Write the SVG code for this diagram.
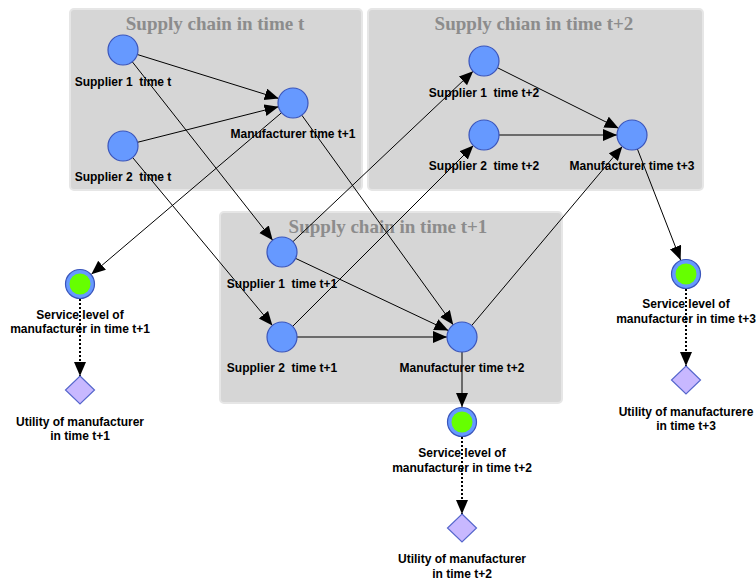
<svg xmlns="http://www.w3.org/2000/svg" width="756" height="583" viewBox="0 0 756 583">
<style>
.box{fill:#d6d6d6;stroke:#e6e6e6;stroke-width:2}
.title{font-family:"Liberation Serif",serif;font-weight:bold;font-size:19px;fill:#8c8c8c;text-anchor:middle}
.lbl{font-family:"Liberation Sans",Arial,sans-serif;font-weight:bold;font-size:12px;fill:#000;text-anchor:middle;white-space:pre}
.node{fill:#6699ff;stroke:#3a55bb;stroke-width:1.2}
.inner{fill:#66ff00}
.dia{fill:#c8b8ff;stroke:#5566cc;stroke-width:1.2}
.e{stroke:#000;stroke-width:1;fill:none;marker-end:url(#arr)}
.d{stroke:#000;stroke-width:2;stroke-dasharray:2,2;fill:none;marker-end:url(#arr)}
</style>
<defs>
<marker id="arr" markerUnits="userSpaceOnUse" markerWidth="15" markerHeight="13" refX="14" refY="6" orient="auto">
<path d="M0,0 L14,6 L0,12 z" fill="#000"/>
</marker>
</defs>
<rect width="756" height="583" fill="#fff"/>
<g id="group-t">
<rect class="box" x="70" y="9" width="292" height="181" rx="4"/>
<text class="title" x="215" y="30">Supply chain in time t</text>
</g>
<g id="group-t2">
<rect class="box" x="368" y="9" width="335" height="181" rx="4"/>
<text class="title" x="534" y="30">Supply chian in time t+2</text>
</g>
<g id="group-t1">
<rect class="box" x="220" y="212" width="342" height="191" rx="4"/>
<text class="title" x="388" y="233">Supply chain in time t+1</text>
</g>
<g id="connectors">
<line class="e" x1="137.3" y1="54.5" x2="278.7" y2="98.5"/>
<line class="e" x1="137.5" y1="142.3" x2="278.5" y2="106.7"/>
<line class="e" x1="132.3" y1="61.8" x2="272.7" y2="240.2"/>
<line class="e" x1="132.6" y1="157.5" x2="272.4" y2="325.5"/>
<line class="e" x1="281.6" y1="112.7" x2="91.4" y2="274.3"/>
<line class="e" x1="301.8" y1="115.2" x2="453.2" y2="324.8"/>
<line class="e" x1="292.9" y1="241.7" x2="473.1" y2="71.3"/>
<line class="e" x1="292.6" y1="326.4" x2="473.4" y2="145.6"/>
<line class="e" x1="295.6" y1="258.4" x2="448.4" y2="330.6"/>
<line class="e" x1="297" y1="337" x2="447" y2="337"/>
<line class="e" x1="471.7" y1="325.5" x2="622.3" y2="146.5"/>
<line class="e" x1="462" y1="352" x2="462" y2="407"/>
<line class="e" x1="497.4" y1="67.7" x2="618.6" y2="128.3"/>
<line class="e" x1="499" y1="135" x2="617" y2="135"/>
<line class="e" x1="637.4" y1="149" x2="680.6" y2="260"/>
<line class="d" x1="80" y1="299" x2="80" y2="376"/>
<line class="d" x1="462" y1="437" x2="462" y2="514"/>
<line class="d" x1="686" y1="289" x2="686" y2="366"/>
</g>
<g id="supplier1-t"><circle class="node" cx="123" cy="50" r="15"/><text class="lbl" x="123" y="86" xml:space="preserve">Supplier 1  time t</text></g>
<g id="supplier2-t"><circle class="node" cx="123" cy="146" r="15"/><text class="lbl" x="123" y="181" xml:space="preserve">Supplier 2  time t</text></g>
<g id="manufacturer-t1"><circle class="node" cx="293" cy="103" r="15"/><text class="lbl" x="293" y="138">Manufacturer time t+1</text></g>
<g id="supplier1-t2"><circle class="node" cx="484" cy="61" r="15"/><text class="lbl" x="484" y="97" xml:space="preserve">Supplier 1  time t+2</text></g>
<g id="supplier2-t2"><circle class="node" cx="484" cy="135" r="15"/><text class="lbl" x="484" y="170" xml:space="preserve">Supplier 2  time t+2</text></g>
<g id="manufacturer-t3"><circle class="node" cx="632" cy="135" r="15"/><text class="lbl" x="632" y="170">Manufacturer time t+3</text></g>
<g id="supplier1-t1"><circle class="node" cx="282" cy="252" r="15"/><text class="lbl" x="282" y="288" xml:space="preserve">Supplier 1  time t+1</text></g>
<g id="supplier2-t1"><circle class="node" cx="282" cy="337" r="15"/><text class="lbl" x="282" y="372" xml:space="preserve">Supplier 2  time t+1</text></g>
<g id="manufacturer-t2"><circle class="node" cx="462" cy="337" r="15"/><text class="lbl" x="462" y="372">Manufacturer time t+2</text></g>
<g id="service-t1"><circle class="node" cx="80" cy="284" r="14.5"/><circle class="inner" cx="80" cy="284" r="10.5"/><text class="lbl" x="80" y="319">Service level of</text><text class="lbl" x="80" y="333">manufacturer in time t+1</text></g>
<g id="service-t2"><circle class="node" cx="462" cy="422" r="14.5"/><circle class="inner" cx="462" cy="422" r="10.5"/><text class="lbl" x="462" y="457">Service level of</text><text class="lbl" x="462" y="472">manufacturer in time t+2</text></g>
<g id="service-t3"><circle class="node" cx="686" cy="274" r="14.5"/><circle class="inner" cx="686" cy="274" r="10.5"/><text class="lbl" x="686" y="308">Service level of</text><text class="lbl" x="686" y="323">manufacturer in time t+3</text></g>
<g id="utility-t1"><polygon class="dia" points="80,376 94.5,390 80,404 65.5,390"/><text class="lbl" x="80" y="426">Utility of manufacturer</text><text class="lbl" x="80" y="440">in time t+1</text></g>
<g id="utility-t2"><polygon class="dia" points="462,514 476.5,528 462,542 447.5,528"/><text class="lbl" x="462" y="563">Utility of manufacturer</text><text class="lbl" x="462" y="578">in time t+2</text></g>
<g id="utility-t3"><polygon class="dia" points="686,366 700.5,380 686,394 671.5,380"/><text class="lbl" x="686" y="416">Utility of manufacturere</text><text class="lbl" x="686" y="430">in time t+3</text></g>
</svg>
